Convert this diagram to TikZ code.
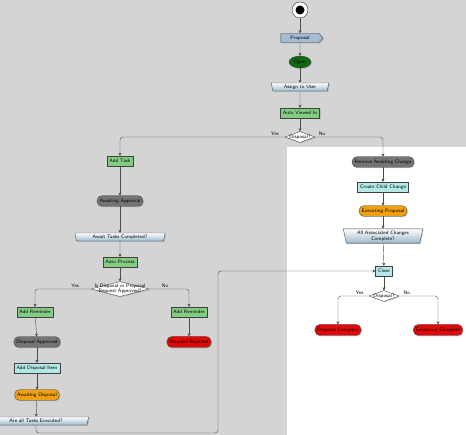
\documentclass[tikz,border=0pt]{standalone}
\usetikzlibrary{shapes.geometric,shapes.symbols,shadows,arrows.meta}
\definecolor{canvasGrey}{HTML}{D4D4D4}
\definecolor{taskGreen}{HTML}{84CC84}
\definecolor{openGreen}{HTML}{10680F}
\definecolor{waitGrey}{HTML}{747474}
\definecolor{itemCyan}{HTML}{B4E8E8}
\definecolor{waitOrange}{HTML}{F0A010}
\definecolor{endRed}{HTML}{E00808}
\definecolor{signalBlue}{HTML}{A6BCD4}
\definecolor{mergeBlue}{HTML}{9CB8CC}
\begin{document}
\begin{tikzpicture}[x=1pt, y=-1pt,
    every node/.style={font=\fontsize{5}{5.5}\selectfont\sffamily, inner xsep=2.5pt, inner ysep=1pt},
    shadowed/.style={draw=black!75, line width=0.35pt, drop shadow={opacity=0.35, shadow xshift=1pt, shadow yshift=-1pt}},
    taskBox/.style={shadowed, rectangle, fill=taskGreen, minimum height=10pt},
    itemBox/.style={shadowed, rectangle, fill=itemCyan, minimum height=10pt},
    waitPill/.style={shadowed, rectangle, rounded corners=4.5pt, fill=waitGrey, minimum height=10.5pt},
    busyPill/.style={shadowed, rectangle, rounded corners=4.5pt, fill=waitOrange, minimum height=10.5pt},
    endPill/.style={shadowed, rectangle, rounded corners=5pt, fill=endRed, minimum height=11pt},
    mergeBar/.style={shadowed, trapezium, trapezium left angle=78, trapezium right angle=78, shape border rotate=180, top color=white, bottom color=mergeBlue, minimum height=8pt, inner ysep=0.5pt, align=center},
    choice/.style={shadowed, diamond, aspect=2.6, fill=white, minimum width=30pt, minimum height=11pt, inner sep=0pt},
    flow/.style={draw=black!70, line width=0.4pt, rounded corners=3pt, -{Stealth[length=3pt,width=3pt]}}]

% canvas
\fill[canvasGrey] (0,0) rectangle (466,435);
\fill[white] (287,147) rectangle (466,435);
\useasboundingbox (0,0) rectangle (466,435);

% opening part
\node[circle, draw=black!80, fill=white, minimum size=16pt, inner sep=0pt](start) at (300,10) {};
\node[circle, fill=black, minimum size=9pt, inner sep=0pt](startDot) at (start) {};
\node[shadowed, signal, signal to=east, signal pointer angle=100, fill=signalBlue, minimum height=9pt, minimum width=42pt](req) at (300,38) {Proposal};
\node[shadowed, ellipse, fill=openGreen, minimum width=22pt, minimum height=12pt, inner sep=0pt](open) at (300,62) {Open};
\node[mergeBar, minimum width=52pt](assign) at (300,87) {Assign to User};
\node[taskBox](autoView) at (300,113) {Auto Viewed In};
\node[choice, label={center:Disposal?}](isDisp) at (300,137) {};

% disposal branch
\node[taskBox](addTask) at (120,161) {Add Task};
\node[waitPill](awaitAppr) at (120,201) {Awaiting Approval};
\node[mergeBar, minimum width=66pt](tkDone) at (120,237) {Await Tasks Completed?};
\node[taskBox](autoProc) at (120,262) {Auto Process};
\node[choice, minimum width=58pt, minimum height=15pt, label={[align=center]center:Is Disposal or Proposal\\Request Approved?}](isAppr) at (120,289) {};
\node[taskBox](addRemL) at (35,312) {Add Reminder};
\node[taskBox](addRemR) at (189,312) {Add Reminder};
\node[waitPill](dispAppr) at (37,342) {Disposal Approved};
\node[endPill](dispRej) at (189,342) {Disposal Rejected};
\node[itemBox](addItem) at (37,368) {Add Disposal Item};
\node[busyPill](awaitDisp) at (37,395) {Awaiting Disposal};
\node[mergeBar, minimum width=68pt](tkExec) at (36,421) {Are all Tasks Executed?};
\coordinate (loopTurn) at (218,433);

% change branch
\node[waitPill](remAwait) at (383,162) {Remove Awaiting Change};
\node[itemBox](childChg) at (383,187) {Create Child Change};
\node[busyPill](execProp) at (383,211) {Executing Proposal};
\node[mergeBar, minimum width=80pt](allDone) at (383,236) {All Associated Changes\\Complete?};
\node[itemBox](close) at (384,271) {Close};
\node[choice, label={center:Disposal?}](isDisp2) at (384,296) {};
\node[endPill](dispDone) at (338,330) {Disposal Complete};
\node[endPill](execDone) at (438,330) {Execution Complete};

\draw[flow] (start) -- (req);
\draw[flow] (req) -- (open);
\draw[flow] (open) -- (assign);
\draw[flow] (assign) -- (autoView);
\draw[flow] (autoView) -- (isDisp);
\draw[flow] (isDisp.west) -| node[pos=0.03, above]{Yes} (addTask);
\draw[flow] (isDisp.east) -| node[pos=0.05, above]{No} (remAwait);

\draw[flow] (addTask) -- (awaitAppr);
\draw[flow] (awaitAppr) -- (tkDone);
\draw[flow] (tkDone) -- (autoProc);
\draw[flow] (autoProc) -- (isAppr);
\draw[flow] (isAppr.west) -| node[pos=0.14, above]{Yes} (addRemL);
\draw[flow] (isAppr.east) -| node[pos=0.2, above]{No} (addRemR);
\draw[flow] (addRemL) -- (dispAppr);
\draw[flow] (dispAppr) -- (addItem);
\draw[flow] (addItem) -- (awaitDisp);
\draw[flow] (awaitDisp) -- (tkExec);
\draw[flow] (addRemR) -- (dispRej);
\draw[flow] (tkExec.south) |- (loopTurn) |- (close.west);

\draw[flow] (remAwait) -- (childChg);
\draw[flow] (childChg) -- (execProp);
\draw[flow] (execProp) -- (allDone);
\draw[flow] (allDone) -- (close);
\draw[flow] (close) -- (isDisp2);
\draw[flow] (isDisp2.west) -| node[pos=0.15, above]{Yes} (dispDone);
\draw[flow] (isDisp2.east) -| node[pos=0.1, above]{No} (execDone);
\end{tikzpicture}
\end{document}
